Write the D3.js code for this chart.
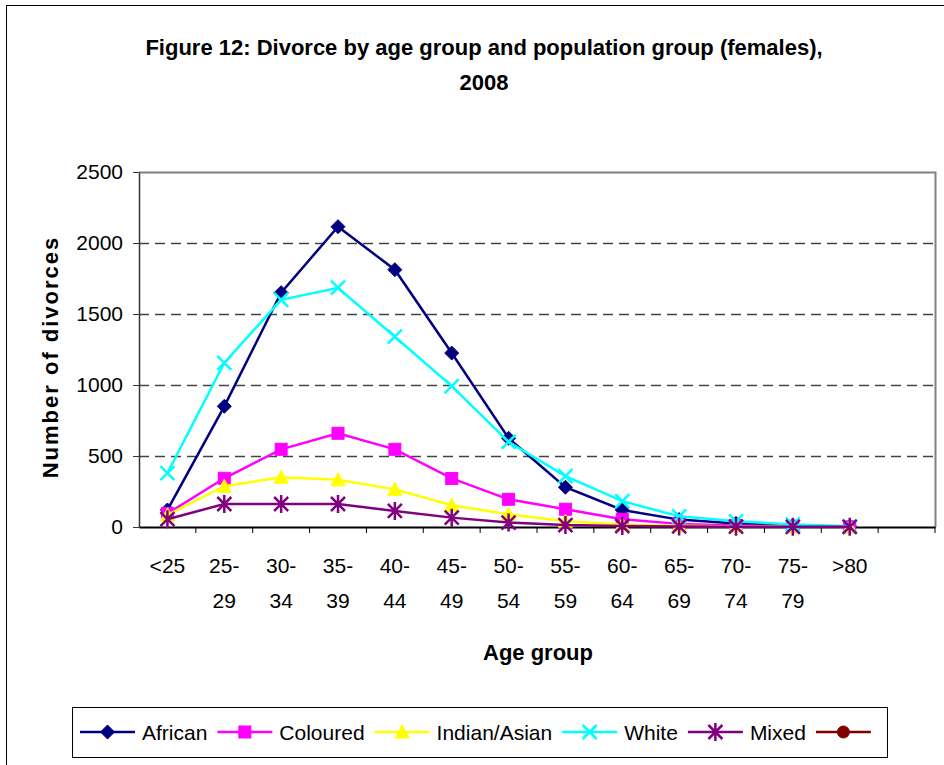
<!DOCTYPE html>
<html>
<head>
    <meta charset="utf-8">
    <title>Figure 12</title>
    <script type="text/javascript" src="https://cdn.jsdelivr.net/npm/d3@7/dist/d3.min.js"></script>
    <style>
        body { margin: 0; background: #fff; }
        text { font-family: "Liberation Sans Narrow", "Arial Narrow", "Liberation Sans", sans-serif; fill: #000; }
    </style>
</head>

<body>

<script type="text/javascript">
    var width = 944,
            height = 765;

    // categories (last one is an empty slot, as in the original)
    var categories = ["<25", "25-29", "30-34", "35-39", "40-44", "45-49", "50-54",
        "55-59", "60-64", "65-69", "70-74", "75-79", ">80", ""];
    var yTicks = [0, 500, 1000, 1500, 2000, 2500];

    var african  = [120, 850, 1650, 2115, 1812, 1225, 625, 280, 120, 52, 25, 10, 4];
    var coloured = [95, 343, 547, 660, 547, 342, 195, 125, 55, 22, 10, 5, 2];
    var indian   = [85, 287, 350, 332, 265, 153, 90, 40, 18, 8, 4, 2, 1];
    var white    = [380, 1155, 1600, 1685, 1340, 992, 600, 358, 182, 75, 40, 18, 5];
    var mixed    = [55, 162, 162, 162, 113, 66, 31, 14, 7, 4, 2, 1, 1];
    var unnamed  = [];

    var series = [
        {name: "African", values: african, color: "#000080", marker: "diamond"},
        {name: "Coloured", values: coloured, color: "#ff00ff", marker: "square"},
        {name: "Indian/Asian", values: indian, color: "#ffff00", marker: "triangle"},
        {name: "White", values: white, color: "#00ffff", marker: "cross"},
        {name: "Mixed", values: mixed, color: "#800080", marker: "star"},
        {name: "", values: unnamed, color: "#800000", marker: "circle"}
    ];

    var pLeft = 139, pRight = 935, pTop = 172, pBottom = 527;

    var svg = d3.select("body").append("svg")
            .attr("width", width)
            .attr("height", height);

    // outer chart border
    svg.append("rect")
            .attr("x", 6.5).attr("y", 5.5)
            .attr("width", 1000).attr("height", 1000)
            .attr("fill", "none").attr("stroke", "#000");

    var x = d3.scaleBand().domain(categories).range([pLeft, pRight]);
    var y = d3.scaleLinear().domain([0, 2500]).range([pBottom, pTop]);
    var bw = x.bandwidth();

    // gridlines
    svg.append("g").selectAll("line")
            .data(yTicks.slice(1, -1))
            .enter().append("line")
            .attr("x1", pLeft).attr("x2", pRight)
            .attr("y1", function (d) { return Math.round(y(d)) + 0.5; })
            .attr("y2", function (d) { return Math.round(y(d)) + 0.5; })
            .attr("stroke", "#444")
            .attr("stroke-width", 1.5)
            .attr("stroke-dasharray", "10,6");

    // plot border top + right
    svg.append("path")
            .attr("d", "M" + pLeft + "," + (pTop + 0.5) + "H" + (pRight + 0.5) + "V" + pBottom)
            .attr("fill", "none").attr("stroke", "#808080").attr("stroke-width", 2);

    // y axis
    var gy = svg.append("g")
            .attr("transform", "translate(" + pLeft + ",0)")
            .call(d3.axisLeft(y).tickValues(yTicks).tickFormat(d3.format("d"))
                    .tickSize(6).tickSizeOuter(0).tickPadding(10));
    gy.select(".domain").attr("stroke", "#333").attr("stroke-width", 1.5);
    gy.selectAll(".tick line").attr("stroke", "#333");
    gy.selectAll(".tick text")
            .style("font-size", "21px")
            .attr("fill", "#000");

    // x axis (ticks between categories)
    var gx = svg.append("g")
            .attr("transform", "translate(0," + pBottom + ")")
            .call(d3.axisBottom(x).tickSize(6).tickSizeOuter(0).tickFormat(""));
    gx.select(".domain").attr("stroke", "#000").attr("stroke-width", 2);
    gx.selectAll(".tick line")
            .attr("stroke", "#000")
            .attr("transform", "translate(" + (bw / 2) + ",0)");

    // x tick labels, split over two lines
    var xl = svg.append("g").selectAll("text")
            .data(categories.filter(function (c) { return c !== ""; }))
            .enter().append("text")
            .attr("text-anchor", "middle")
            .style("font-size", "21px")
            .attr("transform", function (d) { return "translate(" + (x(d) + bw / 2) + "," + (pBottom + 46) + ")"; });
    xl.each(function (d) {
        var parts = d.indexOf("-") > 0 ? [d.slice(0, d.indexOf("-") + 1), d.slice(d.indexOf("-") + 1)] : [d];
        var t = d3.select(this);
        parts.forEach(function (p, i) {
            t.append("tspan").attr("x", 0).attr("dy", i === 0 ? 0 : 35).text(p);
        });
    });

    // titles
    svg.append("text")
            .attr("x", 484).attr("y", 55)
            .attr("text-anchor", "middle")
            .style("font-size", "22px").style("font-weight", "bold")
            .text("Figure 12: Divorce by age group and population group (females),");
    svg.append("text")
            .attr("x", 484).attr("y", 90)
            .attr("text-anchor", "middle")
            .style("font-size", "22px").style("font-weight", "bold")
            .text("2008");
    svg.append("text")
            .attr("x", 538).attr("y", 660)
            .attr("text-anchor", "middle")
            .style("font-size", "22px").style("font-weight", "bold")
            .text("Age group");
    svg.append("text")
            .attr("transform", "translate(58,357) rotate(-90)")
            .attr("text-anchor", "middle")
            .style("font-family", "'Liberation Sans', Arial, sans-serif")
            .style("font-size", "22px").style("font-weight", "bold")
            .style("letter-spacing", "2px")
            .text("Number of divorces");

    function drawMarker(g, type, color) {
        if (type === "diamond") {
            g.append("path").attr("d", "M0,-7L7,0L0,7L-7,0Z").attr("fill", color).attr("stroke", color);
        } else if (type === "square") {
            g.append("rect").attr("x", -6).attr("y", -6).attr("width", 12).attr("height", 12)
                    .attr("fill", color).attr("stroke", color);
        } else if (type === "triangle") {
            g.append("path").attr("d", "M0,-7L7,6L-7,6Z").attr("fill", color).attr("stroke", color);
        } else if (type === "cross") {
            g.append("path").attr("d", "M-7,-7L7,7M7,-7L-7,7").attr("stroke", color).attr("stroke-width", 2.5);
        } else if (type === "star") {
            g.append("path").attr("d", "M-7,-7L7,7M7,-7L-7,7M0,-9V9").attr("stroke", color).attr("stroke-width", 2.5);
        } else if (type === "circle") {
            g.append("circle").attr("r", 6).attr("fill", color).attr("stroke", color);
        }
    }

    var line = d3.line()
            .defined(function (d) { return d != null; })
            .x(function (d, i) { return x(categories[i]) + bw / 2; })
            .y(function (d) { return y(d); });

    series.forEach(function (s) {
        var g = svg.append("g");
        g.append("path")
                .datum(s.values)
                .attr("d", line)
                .attr("fill", "none")
                .attr("stroke", s.color)
                .attr("stroke-width", 2.5);
        g.selectAll("g.pt")
                .data(s.values)
                .enter().append("g")
                .attr("class", "pt")
                .attr("transform", function (d, i) {
                    return "translate(" + (x(categories[i]) + bw / 2) + "," + y(d) + ")";
                })
                .each(function () { drawMarker(d3.select(this), s.marker, s.color); });
    });

    // legend
    var lg = svg.append("g");
    lg.append("rect")
            .attr("x", 72.5).attr("y", 707.5)
            .attr("width", 815).attr("height", 50)
            .attr("fill", "#fff").attr("stroke", "#000");
    var lx = 80;
    series.forEach(function (s) {
        var it = lg.append("g").attr("transform", "translate(" + lx + ",732)");
        it.append("line").attr("x1", 0).attr("x2", 55)
                .attr("stroke", s.color).attr("stroke-width", 2.5);
        drawMarker(it.append("g").attr("transform", "translate(27.5,0)"), s.marker, s.color);
        var t = it.append("text").attr("x", 62).attr("y", 8)
                .style("font-size", "21px").text(s.name);
        lx += 62 + (s.name ? t.node().getComputedTextLength() : 0) + 10;
    });
</script>

</body>

</html>
